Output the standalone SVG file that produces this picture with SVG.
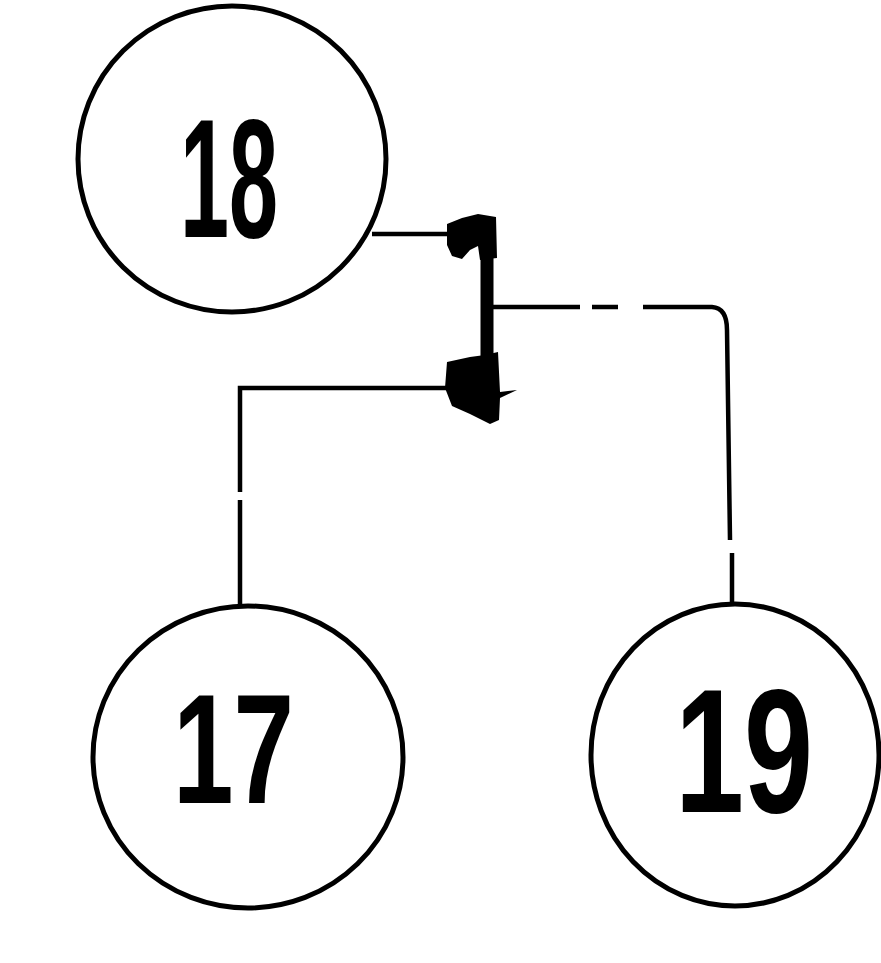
<svg xmlns="http://www.w3.org/2000/svg" width="881" height="963" viewBox="0 0 881 963">
<style>
.node{fill:none;stroke:#000;stroke-width:5}
.lbl{font-family:"Liberation Sans",Arial,sans-serif;font-weight:bold;fill:#000}
.wire{fill:none;stroke:#000;stroke-width:4.5;stroke-linecap:butt}
.bar{fill:none;stroke:#000;stroke-width:13}
.blob{fill:#000;stroke:none}
</style>
<rect width="881" height="963" fill="#fff"/>
<g id="node18">
<ellipse class="node" cx="232" cy="159" rx="154" ry="153"/>
<text class="lbl" x="180" y="237" font-size="168" textLength="98" lengthAdjust="spacingAndGlyphs">18</text>
</g>
<g id="node17">
<ellipse class="node" cx="248" cy="757" rx="155" ry="151"/>
<text class="lbl" x="173" y="803" font-size="156" textLength="121" lengthAdjust="spacingAndGlyphs">17</text>
</g>
<g id="node19">
<ellipse class="node" cx="735" cy="755" rx="144" ry="151"/>
<text class="lbl" x="675" y="812" font-size="176" textLength="138" lengthAdjust="spacingAndGlyphs">19</text>
</g>
<g id="connectors">
<path class="wire" d="M372,234 H452"/>
<path class="blob" d="M447,224 L462,218 L478,214 L496,217 L497,258 L480,260 L478,246 L470,250 L462,259 L452,256 L447,245 Z"/>
<path class="bar" d="M487,250 V365"/>
<path class="wire" d="M493,307 H580 M592,307 H618 M643,307 H712 Q727,308 727,330 L730,540 M732,553 V602"/>
<path class="blob" d="M447,362 L470,357 L485,355 L498,352 L500,392 L517,390 L500,398 L499,420 L490,424 L470,414 L452,406 L445,388 Z"/>
<path class="wire" d="M447,388 H240 V492 M240,500 V606"/>
</g>
</svg>
